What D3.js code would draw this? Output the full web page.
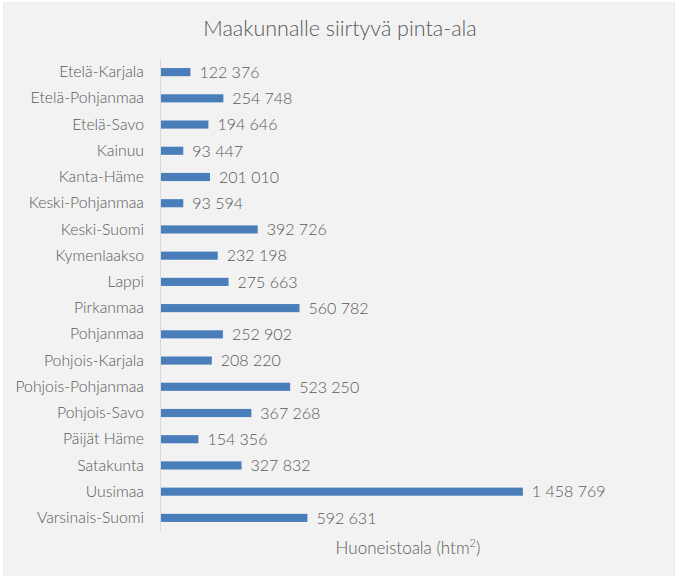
<!DOCTYPE html>
<html>
<head>
<meta charset="utf-8">
<script src="https://cdn.jsdelivr.net/npm/d3@7"></script>
<style>
  html, body { margin: 0; padding: 0; background: #ffffff; }
  svg { display: block; }
  text { font-family: Lato, "Open Sans", sans-serif; fill: #595959; }
</style>
</head>
<body>
<svg id="chart" width="681" height="576"></svg>
<script>
const categories = [
  "Etelä-Karjala", "Etelä-Pohjanmaa", "Etelä-Savo", "Kainuu", "Kanta-Häme",
  "Keski-Pohjanmaa", "Keski-Suomi", "Kymenlaakso", "Lappi", "Pirkanmaa",
  "Pohjanmaa", "Pohjois-Karjala", "Pohjois-Pohjanmaa", "Pohjois-Savo",
  "Päijät Häme", "Satakunta", "Uusimaa", "Varsinais-Suomi"
];
const values = [
  122376, 254748, 194646, 93447, 201010,
  93594, 392726, 232198, 275663, 560782,
  252902, 208220, 523250, 367268,
  154356, 327832, 1458769, 592631
];
const titleText = "Maakunnalle siirtyvä pinta-ala";
const axisTitle = "Huoneistoala (htm";

const svg = d3.select("#chart");

svg.append("rect")
  .attr("x", 3.5).attr("y", 2.5)
  .attr("width", 671).attr("height", 580)
  .attr("fill", "#f2f2f2")
  .attr("stroke", "#ededed");

const x = d3.scaleLinear().domain([0, 1600000]).range([160, 558]);
const y = d3.scaleBand().domain(categories).range([59, 531]).paddingInner(0.69).paddingOuter(0.345);

const fmt = v => d3.format(",")(v).replace(/,/g, " ");

svg.append("text")
  .attr("x", 340).attr("y", 36)
  .attr("text-anchor", "middle")
  .attr("font-size", 21.5)
  .attr("font-weight", 300)
  .text(titleText);

// bars
svg.append("g").selectAll("rect")
  .data(values)
  .join("rect")
  .attr("x", x(0))
  .attr("y", (d, i) => y(categories[i]))
  .attr("width", d => x(d) - x(0))
  .attr("height", y.bandwidth())
  .attr("fill", "#4a7ebb");

// value labels
svg.append("g").selectAll("text")
  .data(values)
  .join("text")
  .attr("x", d => x(d) + 9)
  .attr("y", (d, i) => y(categories[i]) + y.bandwidth() / 2)
  .attr("dy", "0.36em")
  .attr("font-size", 16)
  .attr("font-weight", 300)
  .text(d => fmt(d));

// category axis
const yAxis = d3.axisLeft(y).tickSize(0).tickPadding(16);
const gy = svg.append("g").attr("transform", `translate(${x(0)},0)`).call(yAxis);
gy.select(".domain").attr("stroke", "#d9d9d9").attr("d", `M0.5,59V531`);
gy.selectAll("text")
  .attr("font-size", 15.8)
  .attr("font-weight", 300)
  .attr("font-family", "Lato, 'Open Sans', sans-serif")
  .attr("fill", "#595959");

// axis title
const at = svg.append("text")
  .attr("x", 408).attr("y", 554)
  .attr("text-anchor", "middle")
  .attr("font-size", 17)
  .attr("font-weight", 300);
at.append("tspan").text(axisTitle);
at.append("tspan").attr("font-size", 11).attr("dy", -7).text("2");
at.append("tspan").attr("dy", 7).text(")");
</script>
</body>
</html>
